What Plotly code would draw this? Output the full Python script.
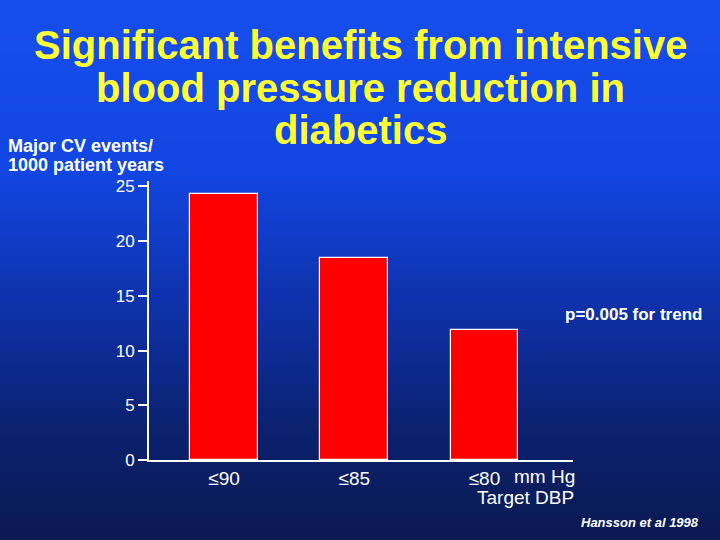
import plotly.graph_objects as go

# ---- data ----
categories = ["≤90", "≤85", "≤80"]
events = [24.3, 18.5, 11.9]
y_ticks = [0, 5, 10, 15, 20, 25]
title_lines = ["Significant benefits from intensive", "blood pressure reduction in", "diabetics"]
y_title_lines = ["Major CV events/", "1000 patient years"]

W, H = 720, 540
L, R, T, B = 149, 147, 181, 80
PW, PH = W - L - R, H - T - B


def px(x):
    return (x - L) / PW


def py(y):
    return (H - B - y) / PH


fig = go.Figure()
fig.add_trace(go.Bar(
    x=[0, 1, 2], y=events, width=0.52,
    marker=dict(color="#ff0000", line=dict(color="white", width=1.2)),
    showlegend=False, hoverinfo="skip",
))

# gradient background bands
stops = [(0, (22, 78, 238)), (170, (18, 70, 226)), (300, (14, 50, 172)), (430, (11, 33, 110)), (540, (10, 26, 82))]
n = 90
shapes = []
for i in range(n):
    y0 = H * i / n
    y1 = H * (i + 1) / n
    ym = (y0 + y1) / 2
    for j in range(len(stops) - 1):
        if stops[j][0] <= ym <= stops[j + 1][0]:
            t = (ym - stops[j][0]) / (stops[j + 1][0] - stops[j][0])
            c = [round(stops[j][1][k] + t * (stops[j + 1][1][k] - stops[j][1][k])) for k in range(3)]
            break
    shapes.append(dict(type="rect", xref="paper", yref="paper", layer="below",
                       x0=px(0), x1=px(W), y0=py(y1 + 0.5), y1=py(y0),
                       fillcolor=f"rgb({c[0]},{c[1]},{c[2]})", line=dict(width=0)))

font = "Liberation Sans, Arial, sans-serif"
ann = []
for i, line in enumerate(title_lines):
    ann.append(dict(text=f"<b>{line}</b>", x=px(360), y=py(45 + i * 42.5), xref="paper", yref="paper",
                    showarrow=False, xanchor="center", yanchor="middle",
                    font=dict(family=font, size=40, color="#ffff33")))
for i, line in enumerate(y_title_lines):
    ann.append(dict(text=f"<b>{line}</b>", x=px(6), y=py(146 + i * 19), xref="paper", yref="paper",
                    showarrow=False, xanchor="left", yanchor="middle",
                    font=dict(family=font, size=18, color="white")))
ann.append(dict(text="<b>p=0.005 for trend</b>", x=px(704), y=py(314), xref="paper", yref="paper",
                showarrow=False, xanchor="right", yanchor="middle",
                font=dict(family=font, size=17, color="white")))
ann.append(dict(text="mm Hg", x=px(577), y=py(476), xref="paper", yref="paper",
                showarrow=False, xanchor="right", yanchor="middle",
                font=dict(family=font, size=19, color="white")))
ann.append(dict(text="Target DBP", x=px(576), y=py(497), xref="paper", yref="paper",
                showarrow=False, xanchor="right", yanchor="middle",
                font=dict(family=font, size=19, color="white")))
ann.append(dict(text="<b><i>Hansson et al 1998</i></b>", x=px(701), y=py(522), xref="paper", yref="paper",
                showarrow=False, xanchor="right", yanchor="middle",
                font=dict(family=font, size=13, color="white")))

fig.update_layout(
    width=W, height=H,
    margin=dict(l=L, r=R, t=T, b=B, pad=0),
    paper_bgcolor="rgb(12,30,90)",
    plot_bgcolor="rgba(0,0,0,0)",
    shapes=shapes,
    annotations=ann,
    bargap=0,
    xaxis=dict(range=[-0.576, 2.68], tickmode="array", tickvals=[0, 1, 2], ticktext=categories,
               showgrid=False, zeroline=False, showline=True, linecolor="white", linewidth=2,
               ticks="", tickfont=dict(family=font, size=19, color="white"), fixedrange=True),
    yaxis=dict(range=[0, 25.5], tickmode="array", tickvals=y_ticks,
               showgrid=False, zeroline=False, showline=True, linecolor="white", linewidth=2,
               ticks="outside", ticklen=9, tickwidth=2, tickcolor="white",
               tickfont=dict(family=font, size=17, color="white"), fixedrange=True),
)

fig.write_html("out.html", config={"displayModeBar": False},
               post_script="document.body.style.margin='0';document.body.style.overflow='hidden';")
